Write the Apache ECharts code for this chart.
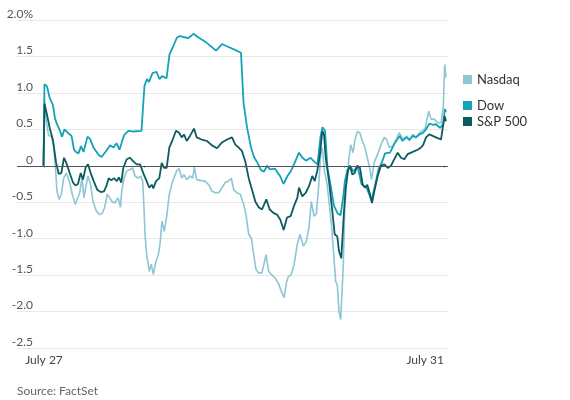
<!DOCTYPE html>
<html>
<head>
<meta charset="utf-8">
<script src="https://cdn.jsdelivr.net/npm/echarts@6/dist/echarts.min.js"></script>
<style>
  html, body { margin: 0; padding: 0; background: #fff; }
  #chart { width: 570px; height: 400px; }
</style>
</head>
<body>
<div id="chart"></div>
<script>
// time is in trading days from the July 27 open, values are % change
const dowTime = [-0.005, 0.005, 0.03, 0.055, 0.09, 0.11, 0.13, 0.16, 0.18, 0.205, 0.24, 0.275, 0.30, 0.32, 0.345, 0.37, 0.395, 0.435, 0.46, 0.495, 0.545, 0.575, 0.62, 0.66, 0.695, 0.725, 0.755, 0.80, 0.845, 0.895, 0.975, 0.99, 1.005, 1.03, 1.05, 1.085, 1.125, 1.155, 1.18, 1.225, 1.255, 1.295, 1.33, 1.36, 1.44, 1.46, 1.495, 1.545, 1.625, 1.72, 1.78, 1.845, 1.91, 1.97, 1.995, 2.03, 2.07, 2.10, 2.135, 2.17, 2.20, 2.23, 2.26, 2.31, 2.36, 2.395, 2.435, 2.47, 2.50, 2.55, 2.585, 2.62, 2.665, 2.70, 2.735, 2.765, 2.785, 2.81, 2.835, 2.87, 2.90, 2.935, 2.965, 2.99, 3.01, 3.035, 3.06, 3.095, 3.135, 3.175, 3.225, 3.26, 3.275, 3.305, 3.345, 3.38, 3.41, 3.46, 3.50, 3.555, 3.585, 3.62, 3.655, 3.69, 3.72, 3.755, 3.79, 3.82, 3.855, 3.89, 3.92, 3.96, 3.99, 4.01, 4.02]
const dowValues = [0, 1.12, 1.09, 0.94, 0.83, 0.65, 0.57, 0.48, 0.40, 0.50, 0.45, 0.41, 0.22, 0.19, 0.17, 0.27, 0.19, 0.40, 0.37, 0.25, 0.15, 0.12, 0.20, 0.28, 0.25, 0.31, 0.22, 0.42, 0.48, 0.47, 0.48, 0.80, 1.10, 1.19, 1.15, 1.27, 1.29, 1.19, 1.23, 1.20, 1.53, 1.65, 1.76, 1.78, 1.75, 1.74, 1.81, 1.76, 1.69, 1.58, 1.67, 1.63, 1.59, 1.55, 0.87, 0.53, 0.25, 0.12, 0.04, -0.06, -0.08, 0.0, -0.05, -0.04, -0.14, -0.25, -0.14, -0.07, 0.02, 0.18, 0.11, 0.07, 0.11, 0.06, 0.02, 0.40, 0.53, 0.48, -0.03, -0.30, -0.55, -0.65, -0.68, -0.45, -0.20, -0.05, 0.0, -0.08, 0.0, -0.25, -0.30, -0.42, -0.48, -0.30, -0.05, 0.05, 0.17, 0.18, 0.29, 0.41, 0.34, 0.39, 0.36, 0.41, 0.39, 0.43, 0.45, 0.50, 0.58, 0.56, 0.57, 0.52, 0.57, 0.78, 0.74]

const nasdaqTime = [-0.005, 0.003, 0.023, 0.045, 0.075, 0.097, 0.113, 0.13, 0.15, 0.173, 0.197, 0.223, 0.257, 0.283, 0.313, 0.333, 0.357, 0.38, 0.40, 0.417, 0.44, 0.467, 0.49, 0.523, 0.557, 0.583, 0.607, 0.633, 0.657, 0.68, 0.707, 0.74, 0.765, 0.777, 0.80, 0.827, 0.86, 0.887, 0.91, 0.943, 0.967, 0.987, 1.00, 1.01, 1.027, 1.053, 1.073, 1.093, 1.12, 1.143, 1.16, 1.18, 1.203, 1.227, 1.253, 1.287, 1.327, 1.353, 1.377, 1.40, 1.427, 1.46, 1.487, 1.503, 1.527, 1.56, 1.61, 1.647, 1.68, 1.713, 1.747, 1.78, 1.813, 1.847, 1.873, 1.897, 1.93, 1.963, 1.997, 2.02, 2.047, 2.073, 2.097, 2.12, 2.147, 2.18, 2.22, 2.247, 2.28, 2.31, 2.343, 2.373, 2.40, 2.425, 2.443, 2.47, 2.50, 2.533, 2.56, 2.593, 2.62, 2.65, 2.673, 2.70, 2.723, 2.743, 2.767, 2.783, 2.807, 2.827, 2.85, 2.877, 2.90, 2.917, 2.933, 2.95, 2.967, 2.983, 2.993, 3.007, 3.027, 3.05, 3.067, 3.09, 3.11, 3.133, 3.16, 3.183, 3.207, 3.233, 3.26, 3.275, 3.303, 3.337, 3.37, 3.403, 3.427, 3.453, 3.487, 3.52, 3.553, 3.58, 3.603, 3.627, 3.653, 3.687, 3.72, 3.753, 3.787, 3.813, 3.847, 3.87, 3.903, 3.937, 3.97, 3.993, 4.007, 4.02]
const nasdaqValues = [0, 0.92, 0.61, 0.42, 0.40, 0.27, 0.0, -0.35, -0.46, -0.39, -0.17, -0.10, -0.23, -0.39, -0.53, -0.53, -0.37, -0.17, -0.44, -0.30, -0.14, -0.26, -0.49, -0.62, -0.67, -0.65, -0.57, -0.39, -0.44, -0.49, -0.51, -0.44, -0.57, -0.35, -0.17, -0.07, -0.05, -0.03, -0.14, -0.17, -0.14, -0.21, -0.58, -0.94, -1.22, -1.45, -1.35, -1.49, -1.31, -1.22, -1.08, -0.76, -0.90, -0.69, -0.39, -0.21, -0.07, -0.04, -0.17, -0.12, -0.19, -0.14, -0.17, -0.02, -0.19, -0.20, -0.21, -0.26, -0.35, -0.37, -0.37, -0.30, -0.23, -0.21, -0.17, -0.33, -0.37, -0.39, -0.53, -0.67, -0.94, -0.99, -1.22, -1.42, -1.47, -1.47, -1.22, -1.45, -1.50, -1.54, -1.61, -1.72, -1.81, -1.60, -1.52, -1.50, -1.36, -1.08, -0.94, -1.10, -1.05, -0.85, -0.49, -0.69, -0.66, -0.35, 0.15, 0.25, -0.10, -0.21, -0.49, -0.85, -1.27, -1.59, -1.63, -2.0, -2.11, -2.09, -1.36, -0.62, -0.21, 0.11, 0.29, 0.18, 0.36, 0.47, 0.45, 0.34, 0.27, 0.11, -0.05, -0.19, 0.05, 0.16, 0.29, 0.39, 0.36, 0.25, 0.27, 0.36, 0.45, 0.39, 0.36, 0.41, 0.34, 0.43, 0.39, 0.45, 0.48, 0.52, 0.75, 0.64, 0.64, 0.59, 0.59, 0.80, 1.39, 1.21]

const spTime = [-0.005, 0.005, 0.03, 0.06, 0.09, 0.12, 0.147, 0.173, 0.20, 0.223, 0.257, 0.29, 0.313, 0.34, 0.367, 0.39, 0.417, 0.44, 0.467, 0.497, 0.533, 0.567, 0.60, 0.623, 0.647, 0.673, 0.70, 0.727, 0.75, 0.773, 0.793, 0.827, 0.86, 0.893, 0.927, 0.96, 0.993, 1.02, 1.053, 1.077, 1.093, 1.12, 1.153, 1.177, 1.20, 1.227, 1.253, 1.287, 1.32, 1.353, 1.377, 1.40, 1.427, 1.46, 1.50, 1.527, 1.577, 1.63, 1.68, 1.73, 1.78, 1.83, 1.88, 1.913, 1.947, 1.98, 2.013, 2.047, 2.08, 2.113, 2.147, 2.18, 2.223, 2.257, 2.297, 2.33, 2.363, 2.397, 2.43, 2.467, 2.50, 2.533, 2.55, 2.583, 2.617, 2.65, 2.683, 2.707, 2.733, 2.76, 2.783, 2.80, 2.817, 2.85, 2.883, 2.907, 2.933, 2.95, 2.973, 2.987, 3.00, 3.017, 3.04, 3.06, 3.083, 3.107, 3.133, 3.16, 3.187, 3.21, 3.233, 3.26, 3.28, 3.303, 3.337, 3.37, 3.403, 3.437, 3.47, 3.503, 3.537, 3.57, 3.603, 3.637, 3.67, 3.703, 3.737, 3.77, 3.793, 3.82, 3.853, 3.887, 3.92, 3.97, 3.993, 4.007, 4.02]
const spValues = [0, 0.85, 0.70, 0.50, 0.35, 0.05, -0.11, -0.10, 0.11, 0.04, -0.10, -0.23, -0.27, -0.25, -0.10, -0.19, -0.02, 0.02, -0.10, -0.21, -0.33, -0.36, -0.35, -0.28, -0.17, -0.20, -0.17, -0.21, -0.16, -0.23, -0.03, 0.09, 0.11, 0.06, 0.02, 0.02, -0.10, -0.19, -0.30, -0.26, -0.31, -0.21, -0.17, 0.04, -0.03, -0.03, 0.25, 0.36, 0.48, 0.45, 0.39, 0.43, 0.34, 0.41, 0.51, 0.39, 0.36, 0.34, 0.28, 0.24, 0.32, 0.36, 0.39, 0.29, 0.25, 0.20, 0.06, -0.17, -0.33, -0.49, -0.57, -0.60, -0.46, -0.60, -0.65, -0.67, -0.74, -0.88, -0.71, -0.69, -0.55, -0.44, -0.30, -0.42, -0.37, -0.28, -0.14, -0.21, -0.07, 0.16, 0.48, 0.43, 0.11, -0.21, -0.62, -0.94, -0.97, -1.17, -1.27, -1.27, -0.62, -0.30, -0.07, 0.0, -0.12, -0.10, 0.0, -0.03, -0.26, -0.30, -0.26, -0.39, -0.51, -0.35, -0.14, 0.0, 0.02, -0.03, 0.0, 0.09, 0.18, 0.11, 0.09, 0.16, 0.18, 0.20, 0.22, 0.25, 0.29, 0.39, 0.43, 0.41, 0.39, 0.36, 0.57, 0.68, 0.61]

const dayTicks = [0, 1, 2, 3, 4]
const dayLabels = {0: 'July 27', 4: 'July 31'}

let myChart = echarts.init(document.getElementById('chart'))

function pairs (t, v) {
  return t.map((x, i) => [x, v[i]])
}

let font = 'Lato, "Open Sans", sans-serif'

let option = {
  animation: false,
  textStyle: {fontFamily: font},
  title: {
    text: 'Source: FactSet',
    left: 12,
    top: 380,
    textStyle: {fontSize: 12, fontWeight: 'normal', color: '#666', fontFamily: font}
  },
  legend: [{
    data: ['Nasdaq'],
    left: 458,
    top: 68,
    icon: 'rect',
    itemWidth: 9,
    itemHeight: 9,
    itemGap: 5,
    textStyle: {fontSize: 13, color: '#333'}
  }, {
    data: ['Dow', 'S&P 500'],
    orient: 'vertical',
    left: 458,
    top: 94,
    icon: 'rect',
    itemWidth: 9,
    itemHeight: 9,
    itemGap: 3,
    textStyle: {fontSize: 13, color: '#333'}
  }],
  grid: {left: 17, right: 122, top: 20, bottom: 52},
  xAxis: {
    type: 'value',
    min: -0.27,
    max: 4.04,
    axisLine: {show: false},
    splitLine: {show: false},
    axisTick: {show: true, customValues: dayTicks, length: 2, lineStyle: {color: '#999'}},
    axisLabel: {
      customValues: [0, 4],
      formatter: v => dayLabels[Math.round(v)] || '',
      fontSize: 12,
      color: '#444',
      margin: 6,
      alignMaxLabel: 'right'
    }
  },
  yAxis: {
    type: 'value',
    min: -2.5,
    max: 2,
    interval: 0.5,
    axisLine: {show: false},
    axisTick: {show: false},
    splitLine: {lineStyle: {color: '#e8e8e8'}},
    axisLabel: {
      inside: true,
      align: 'right',
      verticalAlign: 'bottom',
      margin: 16,
      fontSize: 12,
      color: '#555',
      formatter: v => v === 2 ? '2.0%' : (v === 0 ? '0' : v.toFixed(1))
    }
  },
  series: [
    {
      name: 'Nasdaq',
      type: 'line',
      showSymbol: false,
      color: '#8dc6d5',
      lineStyle: {width: 1.6},
      data: pairs(nasdaqTime, nasdaqValues),
      markLine: {
        silent: true,
        symbol: 'none',
        label: {show: false},
        lineStyle: {color: '#555', type: 'solid', width: 1},
        data: [{yAxis: 0}]
      }
    },
    {
      name: 'Dow',
      type: 'line',
      showSymbol: false,
      color: '#13a2b6',
      lineStyle: {width: 1.8},
      data: pairs(dowTime, dowValues)
    },
    {
      name: 'S&P 500',
      type: 'line',
      showSymbol: false,
      color: '#0c5b60',
      lineStyle: {width: 1.8},
      data: pairs(spTime, spValues)
    }
  ]
}
myChart.setOption(option)
</script>
</body>
</html>
